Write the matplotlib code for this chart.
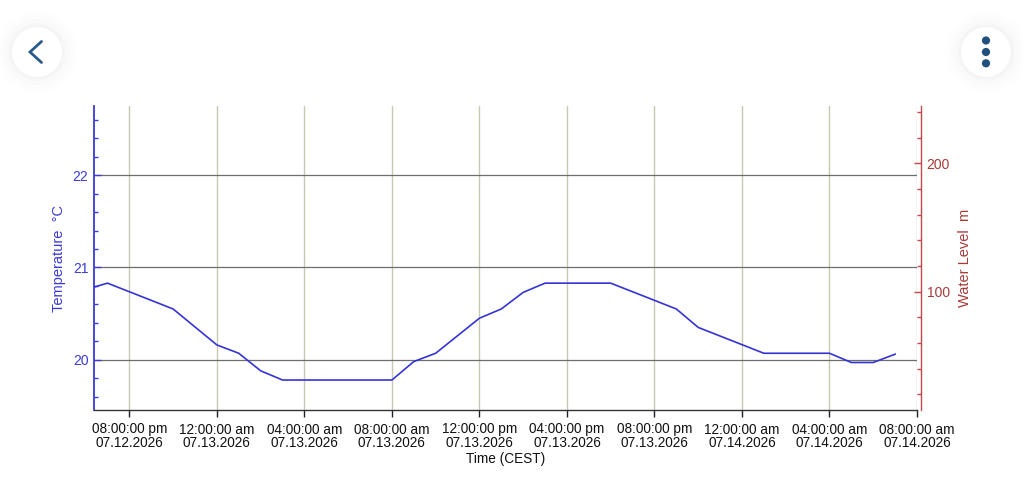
import matplotlib
matplotlib.use("Agg")
import matplotlib.pyplot as plt
import matplotlib.dates as mdates
from matplotlib.ticker import MultipleLocator, FuncFormatter
from matplotlib.patches import Circle
import pandas as pd

plt.rcParams['font.family'] = ['Liberation Sans', 'DejaVu Sans']

# ---- data ----
times = ["2026-07-12 18:00", "2026-07-12 19:00", "2026-07-12 22:00", "2026-07-13 00:00",
         "2026-07-13 01:00", "2026-07-13 02:00", "2026-07-13 03:00", "2026-07-13 08:00",
         "2026-07-13 09:00", "2026-07-13 10:00", "2026-07-13 12:00", "2026-07-13 13:00",
         "2026-07-13 14:00", "2026-07-13 15:00", "2026-07-13 18:00", "2026-07-13 21:00",
         "2026-07-13 22:00", "2026-07-14 01:00", "2026-07-14 04:00", "2026-07-14 05:00",
         "2026-07-14 06:00", "2026-07-14 07:00"]
temps = [20.76, 20.83, 20.55, 20.16, 20.07, 19.88, 19.78, 19.78,
         19.98, 20.07, 20.45, 20.55, 20.73, 20.83, 20.83, 20.55,
         20.35, 20.07, 20.07, 19.97, 19.97, 20.06]
x_start = "2026-07-12 18:23"
x_end = "2026-07-14 08:00"
temp_range = (19.455, 22.75)
level_range = (7.9, 244.6)
temp_label = "Temperature  °C"
level_label = "Water Level  m"
x_label = "Time (CEST)"

BLUE = "#3a3ad8"
LINE_BLUE = "#3434d6"
RED = "#a83a3a"
SPINE_RED = "#c84848"

W, H = 1024, 500
fig = plt.figure(figsize=(W / 100, H / 100), dpi=100)
fig.patch.set_facecolor("white")

# ---- UI overlay ----
ui = fig.add_axes([0, 0, 1, 1], zorder=0)
ui.set_xlim(0, W)
ui.set_ylim(H, 0)
ui.axis("off")
for cx, cy in [(37, 52), (986, 52)]:
    for r, a in [(42, 0.005), (37, 0.007), (33, 0.009), (29, 0.011), (27, 0.012)]:
        ui.add_patch(Circle((cx, cy), r, facecolor="#000000", alpha=a, edgecolor="none"))
    ui.add_patch(Circle((cx, cy), 25, facecolor="white", edgecolor="none"))
ui.plot([41.5, 30, 41.5], [41.5, 52, 62.5], color="#285a8c", lw=2.0,
        solid_capstyle="round", solid_joinstyle="miter")
for dy in [40.5, 52, 63.3]:
    ui.add_patch(Circle((986, dy), 4.1, facecolor="#21507e", edgecolor="none"))

# ---- main chart ----
left, right, top, bottom = 94, 917, 106, 410
ax = fig.add_axes([left / W, 1 - bottom / H, (right - left) / W, (bottom - top) / H], zorder=2)
ax.patch.set_alpha(0)

t = pd.to_datetime(times)
ax.plot(t, temps, color=LINE_BLUE, lw=1.2, zorder=3)
ax.set_xlim(pd.Timestamp(x_start), pd.Timestamp(x_end))
ax.set_ylim(*temp_range)

ax.xaxis.set_major_locator(mdates.HourLocator(byhour=[0, 4, 8, 12, 16, 20]))

def fmt(x, pos):
    d = mdates.num2date(x)
    return d.strftime("%I:%M:%S ") + d.strftime("%p").lower() + "\n" + d.strftime("%m.%d.%Y")

ax.xaxis.set_major_formatter(FuncFormatter(fmt))
ax.tick_params(axis="x", direction="out", length=5, width=1, color="#222222",
               labelsize=9.8, labelcolor="#111111", pad=4)
ax.set_xlabel(x_label, fontsize=9.8, color="#111111", labelpad=1.5)

ax.yaxis.set_major_locator(MultipleLocator(1))
ax.yaxis.set_minor_locator(MultipleLocator(0.2))
ax.tick_params(axis="y", which="major", direction="in", length=5.3, width=1,
               color=BLUE, labelcolor=BLUE, labelsize=10, pad=4)
ax.tick_params(axis="y", which="minor", direction="in", length=3, width=1, color=BLUE)
ax.set_ylabel(temp_label, color=BLUE, fontsize=10.5, labelpad=5)

ax.grid(axis="y", which="major", color="#6e6e6e", lw=0.9)
ax.grid(axis="x", which="major", color="#c9c8b2", lw=1.0)
ax.set_axisbelow(True)

ax.spines["top"].set_visible(False)
ax.spines["right"].set_visible(False)
ax.spines["left"].set_color(BLUE)
ax.spines["left"].set_linewidth(1.3)
ax.spines["bottom"].set_color("#333333")
ax.spines["bottom"].set_linewidth(1.0)

ax2 = ax.twinx()
ax2.set_ylim(*level_range)
ax2.yaxis.set_major_locator(MultipleLocator(100))
ax2.yaxis.set_minor_locator(MultipleLocator(20))
ax2.spines["right"].set_position(("outward", 3))
ax2.spines["right"].set_color(SPINE_RED)
ax2.spines["right"].set_linewidth(1.0)
for s in ["top", "left", "bottom"]:
    ax2.spines[s].set_visible(False)
ax2.tick_params(axis="y", which="major", direction="in", length=5, width=1,
                color=SPINE_RED, labelcolor=RED, labelsize=10, pad=4)
ax2.tick_params(axis="y", which="minor", direction="in", length=3, width=1, color=SPINE_RED)
ax2.set_ylabel(level_label, color=RED, fontsize=10.5, labelpad=6)

fig.canvas.draw()
for lab in ax.get_xticklabels():
    lab.set_linespacing(0.97)
    lab.set_multialignment("center")

fig.savefig("out.png", dpi=100, facecolor="white")
